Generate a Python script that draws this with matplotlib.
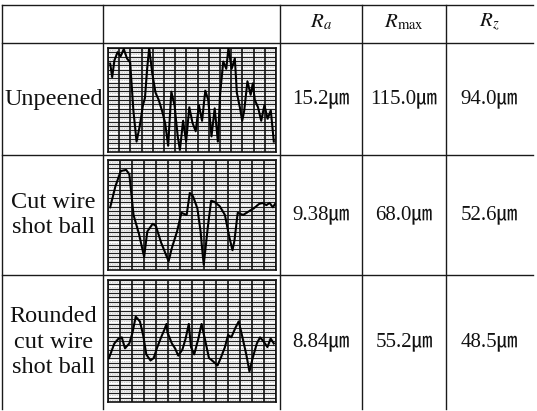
import matplotlib
matplotlib.use("Agg")
import matplotlib.pyplot as plt
import numpy as np

plt.rcParams['mathtext.fontset'] = 'stix'

# ---------------- data ----------------
row_labels = ["Unpeened", "Cut wire\nshot ball", "Rounded\ncut wire\nshot ball"]
col_headers = [r"$R_a$", r"$R_{\max}$", r"$R_z$"]
ra_vals = ["15.2㎛", "9.38㎛", "8.84㎛"]
rmax_vals = ["115.0㎛", "68.0㎛", "55.2㎛"]
rz_vals = ["94.0㎛", "52.6㎛", "48.5㎛"]

# roughness traces: position along trace (% of length), height (% of chart height)
unpeened_x = [1.3, 2.5, 3.8, 5.7, 7.5, 9.4, 11.3, 13.2, 15.1, 17.0, 18.9, 20.8, 22.0, 23.3,
              24.5, 26.4, 28.3, 30.2, 32.1, 34.0, 35.8, 37.7, 39.6, 41.5, 42.8, 44.7, 46.5,
              48.4, 50.3, 52.2, 54.1, 56.0, 57.9, 59.7, 61.6, 63.5, 65.4, 66.7, 68.6, 70.4,
              71.7, 73.6, 75.5, 76.7, 78.6, 79.9, 81.1, 83.0, 84.9, 86.2, 87.4, 89.3, 91.2,
              93.1, 95.0, 96.9, 98.7]
unpeened_y = [85, 72, 88, 96, 92, 99, 90, 86, 40, 10, 25, 45, 52, 80, 100, 75, 57, 50, 40,
              28, 6, 58, 45, 15, 2, 30, 10, 43, 28, 20, 45, 30, 59, 50, 15, 42, 10, 55, 87,
              80, 100, 80, 90, 57, 42, 30, 40, 68, 55, 66, 50, 43, 30, 45, 32, 40, 10]

cutwire_x = [1.3, 4.4, 7.6, 10.8, 12.7, 15.2, 18.4, 21.5, 23.4, 26.6, 28.5, 31.6, 34.2, 36.1,
             38.0, 41.1, 43.7, 46.8, 48.7, 50.6, 53.2, 55.1, 56.3, 57.0, 59.5, 61.4, 63.3,
             66.5, 69.6, 72.2, 74.1, 75.3, 77.2, 80.4, 83.5, 86.7, 89.9, 91.8, 94.3, 96.2,
             98.1, 99.4]
cutwire_y = [57, 76, 90, 91, 87, 50, 33, 12, 35, 42, 40, 25, 15, 8, 20, 35, 52, 50, 70, 67,
             56, 35, 15, 5, 40, 63, 62, 58, 50, 30, 18, 27, 52, 50, 53, 56, 60, 61, 59, 61,
             57, 60]

rounded_x = [0.6, 1.9, 3.8, 6.3, 8.2, 10.1, 12.7, 14.6, 16.5, 19.0, 20.9, 22.8, 25.3, 27.2,
             29.1, 31.6, 33.5, 34.8, 35.4, 38.0, 39.9, 41.8, 44.3, 46.2, 48.1, 49.4, 51.3,
             53.8, 55.7, 57.6, 60.1, 62.0, 65.2, 67.1, 69.6, 71.5, 73.4, 75.9, 77.8, 79.7,
             82.3, 84.2, 86.1, 88.6, 90.5, 92.4, 94.9, 96.8, 98.7]
rounded_y = [36, 41, 48, 52, 53, 44, 48, 57, 70, 66, 55, 39, 34, 36, 44, 53, 59, 64, 57, 48,
             44, 38, 43, 52, 64, 45, 39, 52, 64, 52, 36, 34, 30, 36, 45, 55, 53, 61, 66, 55,
             39, 25, 36, 48, 53, 50, 45, 52, 48]

traces = [(unpeened_x, unpeened_y), (cutwire_x, cutwire_y), (rounded_x, rounded_y)]

# ---------------- layout (pixels) ----------------
W, H = 537, 411
fig = plt.figure(figsize=(W / 100, H / 100), dpi=100)
base = fig.add_axes([0, 0, 1, 1])
base.set_xlim(0, W)
base.set_ylim(H, 0)
base.axis('off')

col_x = [2, 103, 280, 362, 446, 533]
row_y = [5, 43, 155, 275, 409]
line_kw = dict(color='#1a1a1a', lw=1.0)

for y in row_y[:-1]:
    base.plot([col_x[0], col_x[-1]], [y, y], **line_kw)
for x in col_x[:-1]:
    base.plot([x, x], [row_y[0], row_y[-1]], **line_kw)

serif = ['Liberation Serif', 'Noto Sans CJK KR', 'DejaVu Sans']

for j, h in enumerate(col_headers):
    cx = (col_x[j + 2] + col_x[j + 3]) / 2
    base.text(cx, 22, h, ha='center', va='center', fontsize=15, color='#111')

label_y = [(row_y[i + 1] + row_y[i + 2]) / 2 for i in range(3)]
for i in range(3):
    base.text((col_x[0] + col_x[1]) / 2 + 1, label_y[i], row_labels[i], ha='center',
              va='center', multialignment='center', fontsize=17.5, family=serif,
              linespacing=1.3, color='#111')
    for j, vals in enumerate([ra_vals, rmax_vals, rz_vals]):
        cx = (col_x[j + 2] + col_x[j + 3]) / 2
        base.text(cx, label_y[i], vals[i], ha='center', va='center', fontsize=15,
                  family=serif, color='#111')

img_boxes = [(108, 48, 276, 152), (108, 160, 276, 270), (108, 280, 276, 402)]
n_vdiv = [15, 14, 14]
for (l, t, r, b), (tx, ty), nv in zip(img_boxes, traces, n_vdiv):
    ax = fig.add_axes([l / W, 1 - b / H, (r - l) / W, (b - t) / H])
    ax.set_xlim(0, 100)
    ax.set_ylim(0, 100)
    ax.set_xticks([])
    ax.set_yticks([])
    ax.set_facecolor('white')
    for s in ax.spines.values():
        s.set_color('#111')
        s.set_linewidth(1.2)
    nh = int(round((b - t) / 4.3))
    for k, yy in enumerate(np.linspace(0, 100, nh + 1)):
        ax.axhline(yy, color='#222', lw=0.9, zorder=1)
        if k < nh:
            ax.axhline(yy + 50 / nh, color='#999', lw=0.5, ls=(0, (1, 1.5)), zorder=1)
    for xx in np.linspace(0, 100, nv + 1):
        ax.axvline(xx, color='#111', lw=1.2, zorder=1)
    ax.plot(tx, ty, color='black', lw=1.5, zorder=3)

fig.savefig('out.png', dpi=100)
